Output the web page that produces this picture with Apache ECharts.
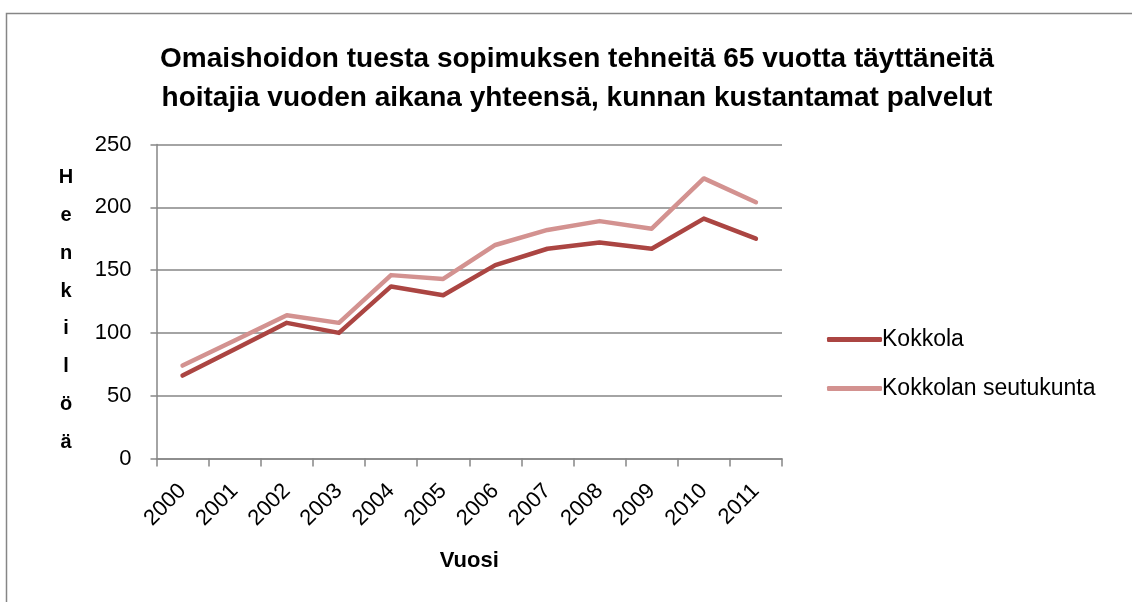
<!DOCTYPE html>
<html><head><meta charset="utf-8">
<script src="https://cdn.jsdelivr.net/npm/echarts@6/dist/echarts.min.js"></script>
<style>html,body{margin:0;padding:0;background:#fff}#c{width:1132px;height:602px}</style>
</head><body><div id="c"></div>
<script>
const years = ['2000','2001','2002','2003','2004','2005','2006','2007','2008','2009','2010','2011'];
const kokkola = [66, 87, 108, 100, 137, 130, 154, 167, 172, 167, 191, 175];
const seutukunta = [74, 94, 114, 108, 146, 143, 170, 182, 189, 183, 223, 204];
const seriesNames = ['Kokkola', 'Kokkolan seutukunta'];
const yTicks = [0, 50, 100, 150, 200, 250];
const titleText = 'Omaishoidon tuesta sopimuksen tehneitä 65 vuotta täyttäneitä\nhoitajia vuoden aikana yhteensä, kunnan kustantamat palvelut';
const yName = 'Henkilöä';
const xName = 'Vuosi';

const FONT = "'Liberation Sans',Arial,sans-serif";
const chart = echarts.init(document.getElementById('c'), null, {renderer: 'canvas'});
chart.setOption({
  backgroundColor: '#fff',
  animation: false,
  title: {
    text: titleText, left: 572, top: 35, textAlign: 'center',
    textStyle: {fontFamily: FONT, fontWeight: 'bold', fontSize: 28, lineHeight: 39, color: '#000'}
  },
  graphic: [
    {type: 'rect', shape: {x: 6.5, y: 13.5, width: 1140, height: 600}, style: {fill: 'none', stroke: '#868686', lineWidth: 1.5}, silent: true},
    {type: 'text', x: 66, y: 310, style: {text: yName.split('').join('\n'), textAlign: 'center', textVerticalAlign: 'middle', fontFamily: FONT, fontWeight: 'bold', fontSize: 20, lineHeight: 37.8, fill: '#000'}}
  ],
  legend: {
    orient: 'vertical', left: 822, top: 323, itemGap: 26, itemWidth: 55, itemHeight: 5, icon: 'roundRect',
    data: seriesNames,
    textStyle: {fontFamily: FONT, fontSize: 23, color: '#000', padding: [0,0,0,-5]}
  },
  grid: {left: 156.5, right: 350, top: 144.5, bottom: 143.5},
  xAxis: {
    type: 'category', data: years, boundaryGap: true,
    name: xName, nameLocation: 'middle', nameGap: 91,
    nameTextStyle: {fontFamily: FONT, fontWeight: 'bold', fontSize: 22, color: '#000'},
    axisLine: {lineStyle: {color: '#868686', width: 1.5}},
    axisTick: {show: true, length: 8, interval: 0, lineStyle: {color: '#868686', width: 1.5}},
    axisLabel: {rotate: 45, interval: 0, margin: 29, fontFamily: FONT, fontSize: 22, color: '#000'}
  },
  yAxis: {
    type: 'value', min: 0, max: 250, interval: 50,
    axisLine: {show: true, lineStyle: {color: '#868686', width: 1.5}},
    axisTick: {show: true, length: 6, lineStyle: {color: '#868686', width: 1.5}},
    splitLine: {lineStyle: {color: '#868686', width: 1.5}},
    axisLabel: {margin: 25, fontFamily: FONT, fontSize: 22, color: '#000',
      formatter: v => yTicks.includes(v) ? String(v) : ''}
  },
  series: [
    {name: seriesNames[0], type: 'line', data: kokkola, symbol: 'none', z: 3,
     lineStyle: {color: '#AB4542', width: 4.5, cap: 'round', join: 'round'}, itemStyle: {color: '#AB4542'}},
    {name: seriesNames[1], type: 'line', data: seutukunta, symbol: 'none', z: 2,
     lineStyle: {color: '#D39290', width: 4.5, cap: 'round', join: 'round'}, itemStyle: {color: '#D39290'}}
  ]
});
</script></body></html>
